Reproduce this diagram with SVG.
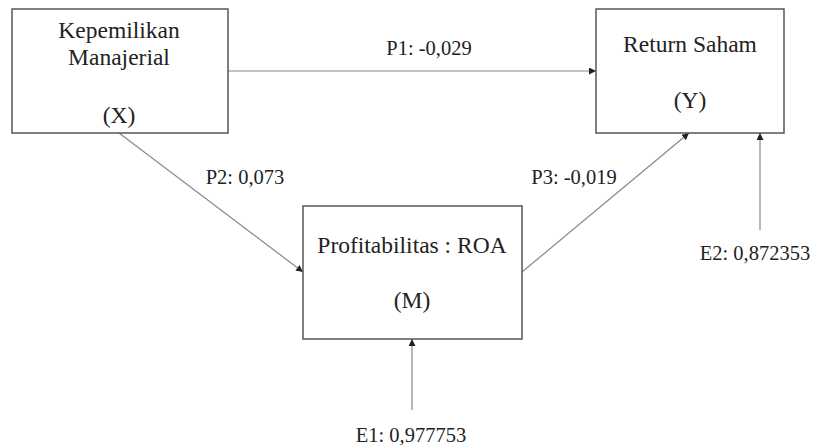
<svg xmlns="http://www.w3.org/2000/svg" width="813" height="448" viewBox="0 0 813 448">
<style>
.box{fill:#fff;stroke:#555;stroke-width:1.5}
.t{font-family:"Liberation Serif","Tinos","Times New Roman","DejaVu Serif",serif;fill:#222;text-anchor:middle}
.n{font-size:23.5px}
.l{font-size:20.5px}
.c{stroke:#888;stroke-width:1.2;fill:none;marker-end:url(#ah)}
</style>
<defs>
<marker id="ah" viewBox="0 0 10 10" refX="10" refY="5" markerWidth="7" markerHeight="7" markerUnits="userSpaceOnUse" orient="auto">
<path d="M0,0 L10,5 L0,10 z" fill="#222"/>
</marker>
</defs>
<rect width="813" height="448" fill="#fff"/>
<g id="connectors">
<line class="c" x1="228" y1="71" x2="596" y2="71"/>
<line class="c" x1="119" y1="133" x2="303" y2="272"/>
<line class="c" x1="522" y1="272" x2="689" y2="133"/>
<line class="c" x1="412" y1="410" x2="412" y2="339"/>
<line class="c" x1="760" y1="230" x2="760" y2="133"/>
<text class="t l" x="429" y="55">P1: -0,029</text>
<text class="t l" x="245" y="184">P2: 0,073</text>
<text class="t l" x="574" y="184">P3: -0,019</text>
<text class="t l" x="411" y="442">E1: 0,977753</text>
<text class="t l" x="755" y="260">E2: 0,872353</text>
</g>
<g id="nodeX">
<rect class="box" x="12" y="9" width="216" height="124"/>
<text class="t n" x="119" y="38">Kepemilikan</text>
<text class="t n" x="119" y="65">Manajerial</text>
<text class="t n" x="119" y="123">(X)</text>
</g>
<g id="nodeY">
<rect class="box" x="596" y="9" width="188" height="124"/>
<text class="t n" x="690" y="52">Return Saham</text>
<text class="t n" x="690" y="108">(Y)</text>
</g>
<g id="nodeM">
<rect class="box" x="303" y="206" width="219" height="133"/>
<text class="t n" x="412" y="253">Profitabilitas : ROA</text>
<text class="t n" x="412" y="308">(M)</text>
</g>
</svg>
